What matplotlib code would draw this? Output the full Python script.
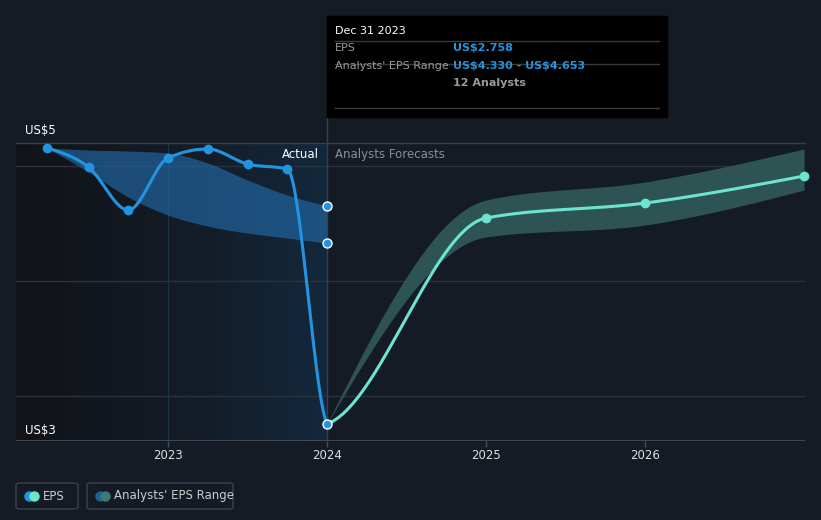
import numpy as np
import matplotlib
matplotlib.use('Agg')
import matplotlib.pyplot as plt
from matplotlib.patches import Rectangle, FancyBboxPatch
from matplotlib.lines import Line2D

plt.rcParams['text.parse_math'] = False

# data (decimal years, EPS in US$)
actual_x = [2022.24, 2022.50, 2022.75, 2023.0, 2023.25, 2023.50, 2023.75, 2024.0]
actual_eps = [5.157, 4.99, 4.617, 5.07, 5.148, 5.017, 4.974, 2.758]
past_hi = [5.157, 5.139, 5.13, 5.113, 5.026, 4.878, 4.748, 4.653]
past_lo = [5.157, 4.948, 4.730, 4.574, 4.478, 4.417, 4.374, 4.330]

fc_x = [2024.0, 2025.0, 2026.0, 2027.0]
fc_eps = [2.758, 4.548, 4.678, 4.913]
fc_hi = [2.758, 4.704, 4.861, 5.148]
fc_lo = [2.758, 4.383, 4.487, 4.791]

years = [2023, 2024, 2025, 2026]

BG = '#151b24'
BLUE = '#2394df'
TEAL = '#6ce4d0'


def monotone(x, y, n=400, m_first=None, m_last=None):
    # d3-style monotone cubic through the points
    x = np.asarray(x, float); y = np.asarray(y, float)
    h = np.diff(x); d = np.diff(y) / h
    m = np.zeros_like(y)
    for i in range(1, len(y) - 1):
        p = (d[i - 1] * h[i] + d[i] * h[i - 1]) / (h[i - 1] + h[i])
        m[i] = (np.sign(d[i - 1]) + np.sign(d[i])) * min(abs(d[i - 1]), abs(d[i]), 0.5 * abs(p))
    m[0] = (3 * d[0] - m[1]) / 2 if len(y) > 2 else d[0]
    m[-1] = (3 * d[-1] - m[-2]) / 2 if len(y) > 2 else d[-1]
    if m_first is not None:
        m[0] = m_first
    if m_last is not None:
        m[-1] = m_last
    xs, ys = [], []
    for i in range(len(h)):
        t = np.linspace(0, 1, n // len(h))
        h00 = 2*t**3 - 3*t**2 + 1; h10 = t**3 - 2*t**2 + t
        h01 = -2*t**3 + 3*t**2; h11 = t**3 - t**2
        xs.append(x[i] + t * h[i])
        ys.append(h00*y[i] + h10*h[i]*m[i] + h01*y[i+1] + h11*h[i]*m[i+1])
    return np.concatenate(xs), np.concatenate(ys)


fig = plt.figure(figsize=(8.21, 5.2), dpi=100, facecolor=BG)
ax = fig.add_axes([16/821, 79/520, 789/821, 298/520], facecolor=BG)
xmin, xmax = 2022.044, 2027.006
ymin, ymax = 2.61, 5.2
ax.set_xlim(xmin, xmax)
ax.set_ylim(ymin, ymax)

# past shading gradient
cmap = matplotlib.colors.LinearSegmentedColormap.from_list(
    'g', [(0, '#111318'), (0.3, '#131820'), (0.6, '#141d29'), (1, '#13283d')])
grad = np.linspace(0, 1, 512).reshape(1, -1)
ax.imshow(grad, extent=[xmin, 2024.0, ymin, ymax], aspect='auto', cmap=cmap,
          interpolation='bilinear', zorder=0)

for v in [3, 4, 5]:
    ax.axhline(v, color='#2c323b', lw=1, zorder=1)
ax.axhline(ymax, color='#3a3f47', lw=1, zorder=1, clip_on=False)
ax.axvline(2023.0, color='#1d3349', lw=0.8, zorder=1)

# bands
bx, bh = monotone(actual_x, past_hi)
_, bl = monotone(actual_x, past_lo)
ax.fill_between(bx, bl, bh, color='#2169a6', alpha=0.65, lw=0, zorder=2)
fx, fh = monotone(fc_x, fc_hi)
_, fl = monotone(fc_x, fc_lo)
ax.fill_between(fx, fl, fh, color='#2f5855', alpha=0.95, lw=0, zorder=2)

# lines
lx, ly = monotone(actual_x, actual_eps, m_last=-3.0)
ax.plot(lx, ly, color=BLUE, lw=2.2, zorder=4)
ax.scatter(actual_x[:-1], actual_eps[:-1], s=36, color=BLUE, zorder=5)
gx, gy = monotone(fc_x, fc_eps, m_first=0.5)
ax.plot(gx, gy, color=TEAL, lw=2.2, zorder=4)
ax.scatter(fc_x[1:], fc_eps[1:], s=36, color=TEAL, zorder=5, clip_on=False)
ax.scatter([2024.0, 2024.0, 2024.0], [actual_eps[-1], past_hi[-1], past_lo[-1]],
           s=42, color=BLUE, edgecolor='white', lw=1, zorder=6, clip_on=False)

# 2024 divider line up to tooltip
ax.plot([2024.0, 2024.0], [ymin, ymax], color='#3a4048', lw=1, zorder=3)
fig.add_artist(Line2D([327/821, 327/821], [377/520, 403/520], color='#3a4048', lw=1))

ax.text(2024.0 - 0.05, 5.1, 'Actual', color='white', fontsize=8.5, ha='right', va='center', zorder=7)
ax.text(2024.0 + 0.05, 5.1, 'Analysts Forecasts', color='#8a8f96', fontsize=8.5, ha='left', va='center', zorder=7)

for s in ax.spines.values():
    s.set_visible(False)
ax.axhline(ymin, color='#4a4f57', lw=1.2, zorder=3)
ax.set_yticks([])
ax.set_xticks(years)
ax.set_xticklabels([str(y) for y in years])
ax.tick_params(axis='x', colors='#dddddd', labelsize=8.5, length=4, width=1, color='#4a4f57', pad=2)

fig.text(25/821, 1 - 130/520, 'US$5', color='white', fontsize=8.5, va='center')
fig.text(25/821, 1 - 430/520, 'US$3', color='white', fontsize=8.5, va='center')

# tooltip
fig.add_artist(Rectangle((327/821, 1 - 117/520), 340/821, 101/520, color='black', zorder=10))
for yy in [41, 64, 108]:
    fig.add_artist(Line2D([335/821, 659/821], [1 - yy/520] * 2, color='#3a3a3a', lw=1, zorder=11))
fig.text(335/821, 1 - 31/520, 'Dec 31 2023', color='white', fontsize=8, va='center', zorder=12)
fig.text(335/821, 1 - 48/520, 'EPS', color='#9a9a9a', fontsize=8, va='center', zorder=12)
fig.text(453/821, 1 - 48/520, 'US$2.758', color=BLUE, fontsize=8, weight='bold', va='center', zorder=12)
fig.text(335/821, 1 - 66/520, "Analysts' EPS Range", color='#9a9a9a', fontsize=8, va='center', zorder=12)
fig.text(453/821, 1 - 66/520, 'US$4.330 - US$4.653', color=BLUE, fontsize=8, weight='bold', va='center', zorder=12)
fig.text(453/821, 1 - 83/520, '12 Analysts', color='#9a9a9a', fontsize=8, weight='bold', va='center', zorder=12)

# legend
def legend_box(x0, w, label, c1, c2):
    fig.add_artist(FancyBboxPatch((x0/821, 1 - 509/520), w/821, 26/520,
                                  boxstyle='round,pad=0,rounding_size=0.004',
                                  fc=BG, ec='#3d434b', lw=1))
    fig.add_artist(Line2D([(x0 + 13)/821], [1 - 496/520], marker='o', ms=6.5, color=c1, lw=0))
    fig.add_artist(Line2D([(x0 + 18)/821], [1 - 496/520], marker='o', ms=6.5, color=c2, lw=0))
    fig.text((x0 + 27)/821, 1 - 496/520, label, color='#cccccc', fontsize=8.5, va='center')

legend_box(16, 62, 'EPS', BLUE, TEAL)
legend_box(87, 146, "Analysts' EPS Range", '#1f5f94', '#3b7a75')

fig.savefig('out.png', dpi=100, facecolor=BG)
